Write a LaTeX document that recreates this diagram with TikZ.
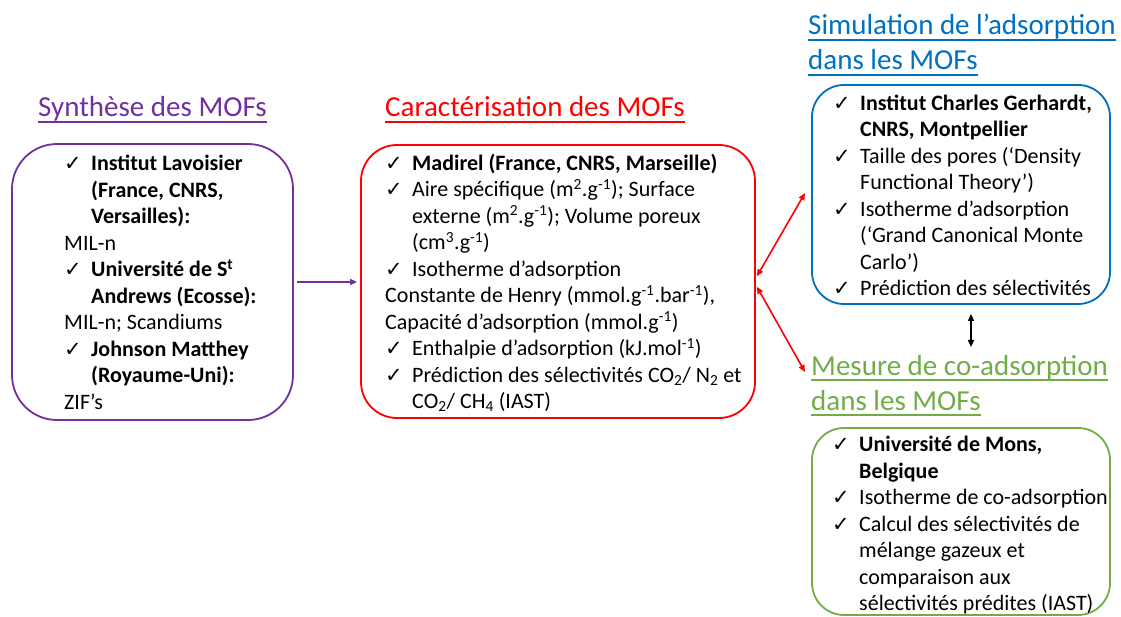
\documentclass[tikz,border=0pt]{standalone}
\usepackage{fontspec}
\setmainfont{Carlito}
\newfontfamily\checkfont{DejaVu Sans}
\usetikzlibrary{arrows.meta}
\definecolor{SynViolet}{HTML}{7030A0}
\definecolor{CarRed}{HTML}{FF0000}
\definecolor{SimBlue}{HTML}{0070C0}
\definecolor{MesGreen}{HTML}{70AD47}
\newcommand{\ckm}{\makebox[27pt][l]{\checkfont\fontsize{21}{21}\selectfont ✓}}
\newcommand{\contl}{\hspace*{27pt}}
\tikzset{
  frame/.style={draw=#1, line width=1.8pt, rounded corners=32pt, inner sep=0},
  title/.style={anchor=base west, inner sep=0, text=#1, font=\fontsize{29}{35}\selectfont},
  uline/.style={draw=#1, line width=1.7pt},
  body/.style={anchor=north west, inner sep=0, align=left, font=\fontsize{22}{26.5}\selectfont},
  link/.style={draw=#1, line width=1.6pt, -{Triangle[length=7pt,width=6pt]}},
  dlink/.style={draw=#1, line width=1.6pt, {Triangle[length=7pt,width=6pt]}-{Triangle[length=7pt,width=6pt]}}
}
\begin{document}
\begin{tikzpicture}[x=1pt, y=-1pt]
  \useasboundingbox (0,0) rectangle (1121,617);

  % --- Synthese ---
  \node[title=SynViolet] (syntitle) at (38,117) {Synthèse des MOFs};
  \draw[uline=SynViolet] ([yshift=-5pt]syntitle.base west) -- ([yshift=-5pt]syntitle.base east);
  \node[frame=SynViolet, rounded corners=45pt, minimum width=281, minimum height=276] (synbox) at (152.5,282) {};
  \node[body] (syntext) at (64,152) {\strut\ckm\textbf{Institut Lavoisier}\\
    \contl\textbf{(France, CNRS,}\\
    \contl\textbf{Versailles):}\\
    MIL-n\\
    \ckm\textbf{Université de S\textsuperscript{t}}\\
    \contl\textbf{Andrews (Ecosse):}\\
    MIL-n; Scandiums\\
    \ckm\textbf{Johnson Matthey}\\
    \contl\textbf{(Royaume-Uni):}\\
    ZIF’s};

  % --- Caracterisation ---
  \node[title=CarRed] (cartitle) at (385,117) {Caractérisation des MOFs};
  \draw[uline=CarRed] ([yshift=-5pt]cartitle.base west) -- ([yshift=-5pt]cartitle.base east);
  \node[frame=CarRed, rounded corners=36pt, minimum width=394, minimum height=273] (carbox) at (558,281.5) {};
  \node[body] (cartext) at (385,151.5) {\strut\ckm\textbf{Madirel (France, CNRS, Marseille)}\\
    \ckm Aire spécifique (m\textsuperscript{2}.g\textsuperscript{-1}); Surface\\
    \contl externe (m\textsuperscript{2}.g\textsuperscript{-1}); Volume poreux\\
    \contl (cm\textsuperscript{3}.g\textsuperscript{-1})\\
    \ckm Isotherme d’adsorption\\
    Constante de Henry (mmol.g\textsuperscript{-1}.bar\textsuperscript{-1}),\\
    Capacité d’adsorption (mmol.g\textsuperscript{-1})\\
    \ckm Enthalpie d’adsorption (kJ.mol\textsuperscript{-1})\\
    \ckm Prédiction des sélectivités CO\textsubscript{2}/ N\textsubscript{2} et\\
    \contl CO\textsubscript{2}/ CH\textsubscript{4} (IAST)};

  % --- Simulation ---
  \node[title=SimBlue] (simtitlea) at (808,35) {Simulation de l’adsorption};
  \node[title=SimBlue] (simtitleb) at (808,70) {dans les MOFs};
  \draw[uline=SimBlue] ([yshift=-5pt]simtitlea.base west) -- ([yshift=-5pt]simtitlea.base east);
  \draw[uline=SimBlue] ([yshift=-5pt]simtitleb.base west) -- ([yshift=-5pt]simtitleb.base east);
  \node[frame=SimBlue, minimum width=298, minimum height=219] (simbox) at (961,194.5) {};
  \node[body] (simtext) at (833,91.5) {\strut\ckm\textbf{Institut Charles Gerhardt,}\\
    \contl\textbf{CNRS, Montpellier}\\
    \ckm Taille des pores (‘Density\\
    \contl Functional Theory’)\\
    \ckm Isotherme d’adsorption\\
    \contl (‘Grand Canonical Monte\\
    \contl Carlo’)\\
    \ckm Prédiction des sélectivités};

  % --- Mesure ---
  \node[title=MesGreen] (mestitlea) at (811,375) {Mesure de co-adsorption};
  \node[title=MesGreen] (mestitleb) at (811,410) {dans les MOFs};
  \draw[uline=MesGreen] ([yshift=-5pt]mestitlea.base west) -- ([yshift=-5pt]mestitlea.base east);
  \draw[uline=MesGreen] ([yshift=-5pt]mestitleb.base west) -- ([yshift=-5pt]mestitleb.base east);
  \node[frame=MesGreen, minimum width=298, minimum height=187] (mesbox) at (961,521.5) {};
  \node[body] (mestext) at (832,433) {\strut\ckm\textbf{Université de Mons,}\\
    \contl\textbf{Belgique}\\
    \ckm Isotherme de co-adsorption\\
    \ckm Calcul des sélectivités de\\
    \contl mélange gazeux et\\
    \contl comparaison aux\\
    \contl sélectivités prédites (IAST)};

  % --- Arrows ---
  \coordinate (simend) at (805,193);
  \coordinate (mesend) at (805,372);
  \coordinate (coend) at (971,347);
  \draw[link=SynViolet, shorten <=3pt, shorten >=3pt] (synbox.east) -- (synbox.east -| carbox.west);
  \draw[dlink=CarRed, shorten <=2pt] ([yshift=3.5pt]carbox.east) -- (simend);
  \draw[dlink=CarRed, shorten <=2pt] ([yshift=-3.5pt]carbox.east) -- (mesend);
  \draw[dlink=black, shorten <=9pt] ([xshift=10pt]simbox.south) -- (coend);
\end{tikzpicture}
\end{document}
